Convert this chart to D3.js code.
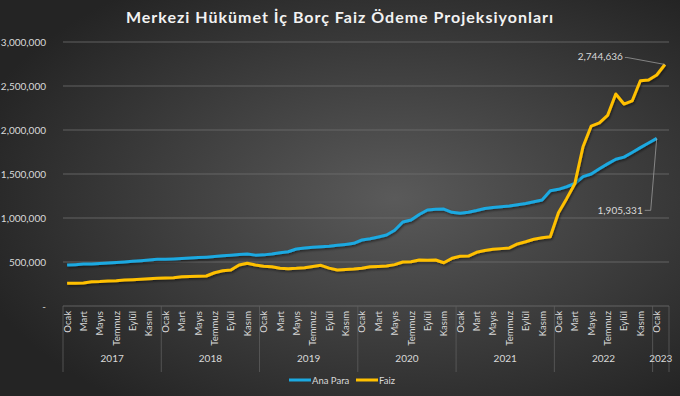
<!DOCTYPE html>
<html>
<head>
<meta charset="utf-8">
<script src="https://cdn.jsdelivr.net/npm/d3@7"></script>
<style>
  body { margin: 0; background: #2a2a2a; }
  text { font-family: Lato, "Open Sans", sans-serif; }
</style>
</head>
<body>
<div id="chart"></div>
<script>
const monthNames = ["Ocak","Şubat","Mart","Nisan","Mayıs","Haziran","Temmuz","Ağustos","Eylül","Ekim","Kasım","Aralık"];
const years = [2017, 2018, 2019, 2020, 2021, 2022, 2023];
const yTicks = [0, 500000, 1000000, 1500000, 2000000, 2500000, 3000000];

// Ana Para, Ocak 2017 - Ocak 2023 (bin TL okunan)
const anaPara = [466,470,476,478,482,488,493,500,508,515,522,530,
  532,535,540,545,550,555,562,570,578,584,590,578,
  581,590,605,617,648,660,667,674,680,690,700,712,
  750,765,785,807,860,955,977,1040,1091,1100,1102,1065,
  1053,1065,1085,1108,1120,1128,1136,1150,1165,1185,1205,1310,
  1326,1355,1392,1470,1500,1560,1615,1667,1692,1745,1800,1852,
  1905.331];
// Faiz, Ocak 2017 - Şubat 2023
const faiz = [258,258,262,276,278,284,288,295,298,303,310,315,
  318,322,333,336,338,341,378,401,410,466,485,466,
  452,447,430,424,428,435,450,462,430,409,415,420,
  428,447,450,455,470,500,503,523,520,523,492,542,
  565,568,610,630,644,652,660,705,730,758,775,788,
  1060,1220,1390,1810,2045,2080,2165,2409,2295,2330,2560,2568,
  2625,2744.636];

const W = 680, H = 396;
const pLeft = 63, pRight = 669, pTop = 42, pBottom = 306;

// months list built from years, last year only Ocak + Şubat
let cats = [];
years.forEach(yr => {
  const n = yr == 2023 ? 2 : 12;
  for (let m = 0; m < n; m++) cats.push({year: yr, m: m, label: monthNames[m]});
});

const svg = d3.select("#chart").append("svg")
  .attr("width", W).attr("height", H);

const defs = svg.append("defs");
const grad = defs.append("radialGradient").attr("id", "bg")
  .attr("cx", "58%").attr("cy", "50%").attr("r", "65%");
grad.append("stop").attr("offset", "0%").attr("stop-color", "#5a5a5a");
grad.append("stop").attr("offset", "100%").attr("stop-color", "#242424");
const sh = defs.append("filter").attr("id", "sh")
  .attr("x", "-5%").attr("y", "-5%").attr("width", "110%").attr("height", "110%");
sh.append("feDropShadow").attr("dx", 1).attr("dy", 1.5).attr("stdDeviation", 1)
  .attr("flood-color", "#000").attr("flood-opacity", 0.5);

svg.append("rect").attr("width", W).attr("height", H).attr("fill", "url(#bg)");

svg.append("text").attr("x", 340).attr("y", 23)
  .attr("text-anchor", "middle").attr("fill", "#f2f2f2")
  .attr("font-size", 16).attr("font-weight", "bold")
  .attr("letter-spacing", 1)
  .text("Merkezi Hükümet İç Borç Faiz Ödeme Projeksiyonları");

const x = d3.scaleBand().domain(d3.range(cats.length)).range([pLeft, pRight]);
const cx = i => x(i) + x.bandwidth() / 2;
const y = d3.scaleLinear().domain([0, 3000000]).range([pBottom, pTop]);

// grid
svg.append("g").selectAll("line").data(yTicks.slice(1)).enter().append("line")
  .attr("x1", pLeft).attr("x2", pRight)
  .attr("y1", d => y(d)).attr("y2", d => y(d))
  .attr("stroke", "#6e6e6e").attr("stroke-width", 0.8);

// y axis labels
const yAxis = d3.axisLeft(y).tickValues(yTicks).tickSize(0)
  .tickFormat(d => d == 0 ? "-" : d3.format(",")(d));
const ya = svg.append("g").attr("transform", `translate(${pLeft - 14},0)`).call(yAxis);
ya.select(".domain").remove();
ya.selectAll("text").attr("fill", "#d9d9d9").attr("font-size", 10)
  .attr("font-family", "Lato, sans-serif");

// x axis line
svg.append("line").attr("x1", pLeft).attr("x2", pRight)
  .attr("y1", pBottom).attr("y2", pBottom)
  .attr("stroke", "#6e6e6e").attr("stroke-width", 0.8);

// month labels every other month
svg.append("g").selectAll("text").data(cats.filter(c => c.m % 2 == 0)).enter()
  .append("text")
  .attr("transform", d => `translate(${cx(cats.indexOf(d)) + 3.5},${pBottom + 5}) rotate(-90)`)
  .attr("text-anchor", "end")
  .attr("fill", "#d9d9d9").attr("font-size", 9.5)
  .text(d => d.label);

// year separators and year labels
const yearSpans = years.map(yr => {
  const idx = cats.map((c, i) => c.year == yr ? i : -1).filter(i => i >= 0);
  return {year: yr, a: x(idx[0]), b: x(idx[idx.length - 1]) + x.bandwidth()};
});
svg.append("g").selectAll("line").data([yearSpans[0].a].concat(yearSpans.map(s => s.b)))
  .enter().append("line")
  .attr("x1", d => d).attr("x2", d => d)
  .attr("y1", pBottom).attr("y2", 372)
  .attr("stroke", "#5e5e5e").attr("stroke-width", 0.8);
svg.append("g").selectAll("text").data(yearSpans).enter().append("text")
  .attr("x", d => (d.a + d.b) / 2).attr("y", 362)
  .attr("text-anchor", "middle").attr("fill", "#d9d9d9").attr("font-size", 10)
  .text(d => d.year);

// lines
const line = d3.line().x((d, i) => cx(i)).y(d => y(d * 1000));
svg.append("path").datum(anaPara).attr("d", line)
  .attr("fill", "none").attr("stroke", "#1ba9e1").attr("stroke-width", 3)
  .attr("stroke-linejoin", "round").attr("filter", "url(#sh)");
svg.append("path").datum(faiz).attr("d", line)
  .attr("fill", "none").attr("stroke", "#ffc000").attr("stroke-width", 3)
  .attr("stroke-linejoin", "round").attr("filter", "url(#sh)");

// end labels with leader lines
const fmt = d3.format(",");
const fi = faiz.length - 1, ai = anaPara.length - 1;
const fx = cx(fi), fy = y(faiz[fi] * 1000);
svg.append("polyline")
  .attr("points", `${fx},${fy} ${fx - 38},${fy - 7} ${fx - 40},${fy - 7}`)
  .attr("fill", "none").attr("stroke", "#a6a6a6").attr("stroke-width", 0.7);
svg.append("text").attr("x", fx - 42).attr("y", fy - 4)
  .attr("text-anchor", "end").attr("fill", "#d9d9d9").attr("font-size", 10)
  .text(fmt(Math.round(faiz[fi] * 1000)));
const ax = cx(ai), ay = y(anaPara[ai] * 1000);
svg.append("polyline")
  .attr("points", `${ax},${ay} ${ax - 6},${ay + 72} ${ax - 12},${ay + 72}`)
  .attr("fill", "none").attr("stroke", "#a6a6a6").attr("stroke-width", 0.7);
svg.append("text").attr("x", ax - 14).attr("y", ay + 75.5)
  .attr("text-anchor", "end").attr("fill", "#d9d9d9").attr("font-size", 10)
  .text(fmt(Math.round(anaPara[ai] * 1000)));

// legend
const legend = [{name: "Ana Para", color: "#1ba9e1", x: 289}, {name: "Faiz", color: "#ffc000", x: 356}];
const lg = svg.append("g").selectAll("g").data(legend).enter().append("g");
lg.append("line").attr("x1", d => d.x).attr("x2", d => d.x + 22)
  .attr("y1", 380).attr("y2", 380).attr("stroke", d => d.color).attr("stroke-width", 3);
lg.append("text").attr("x", d => d.x + 23).attr("y", 383.5)
  .attr("fill", "#d9d9d9").attr("font-size", 9.5).text(d => d.name);
</script>
</body>
</html>
